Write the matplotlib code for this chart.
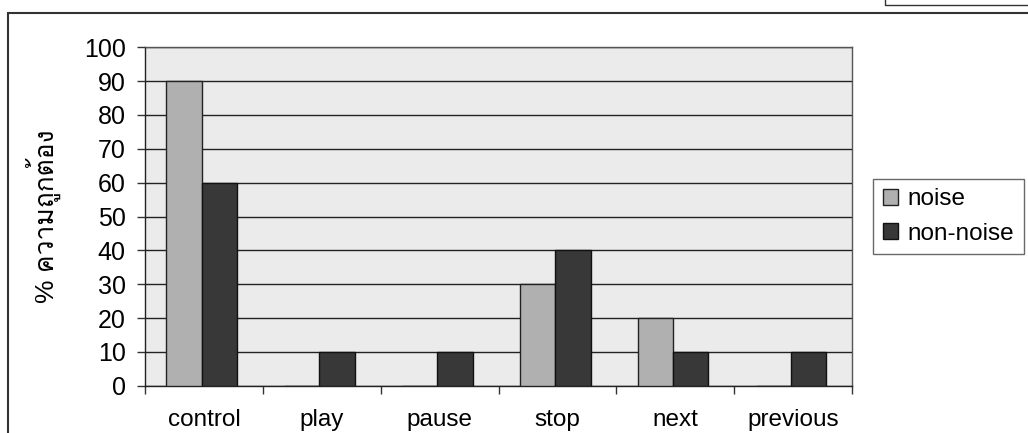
import matplotlib
matplotlib.use("Agg")
import matplotlib.pyplot as plt
from matplotlib import font_manager
from matplotlib.ft2font import FT2Font
from matplotlib.patches import Rectangle
import numpy as np

categories = ["control", "play", "pause", "stop", "next", "previous"]
noise = [90, 0, 0, 30, 20, 0]
non_noise = [60, 10, 10, 40, 10, 10]
yticks = [0, 10, 20, 30, 40, 50, 60, 70, 80, 90, 100]
ylabel = "% ความถูกต้อง"


def find_thai_font():
    for f in font_manager.fontManager.ttflist:
        try:
            cmap = FT2Font(f.fname).get_charmap()
        except Exception:
            continue
        if 0x0E04 in cmap and 0x0E39 in cmap:
            return f.name
    return None


thai = find_thai_font()
fams = ["Liberation Sans"] + ([thai] if thai else []) + ["DejaVu Sans"]
plt.rcParams["font.family"] = fams

fig = plt.figure(figsize=(10.28, 4.33), dpi=100)
ax = fig.add_axes([0.141, 0.109, 0.688, 0.782])

x = np.arange(len(categories))
w = 0.3
ax.bar(x - w / 2 - 0.02, noise, w, color="#b0b0b0", edgecolor="#222222", linewidth=1, label="noise", zorder=3)
ax.bar(x + w / 2 - 0.02, non_noise, w, color="#383838", edgecolor="#111111", linewidth=1, label="non-noise", zorder=3)

ax.set_facecolor("#ebebeb")
ax.set_xlim(-0.5, len(categories) - 0.5)
ax.set_ylim(0, 100)
ax.set_yticks(yticks)
ax.yaxis.grid(True, color="#222222", linewidth=1, zorder=0)
ax.set_axisbelow(True)
ax.set_xticks(x)
ax.set_xticklabels(categories, fontsize=17.5)
ax.tick_params(axis="x", length=0, pad=17)
ax.set_xticks(np.arange(len(categories) + 1) - 0.5, minor=True)
ax.tick_params(axis="x", which="minor", length=6, width=1, color="#333333")
ax.tick_params(axis="y", labelsize=18, length=6, width=1, color="#333333", pad=8)
for s in ax.spines.values():
    s.set_color("#555555")
    s.set_linewidth(1)
ax.spines["bottom"].set_color("#222222")
ax.spines["left"].set_color("#222222")
ax.set_ylabel(ylabel, fontsize=19, labelpad=16)

ax.legend(loc="center left", bbox_to_anchor=(1.03, 0.5), fontsize=17.5, frameon=True,
          fancybox=False, edgecolor="#444444", handlelength=0.6, handleheight=0.6,
          handletextpad=0.4, borderpad=0.4, labelspacing=0.5, borderaxespad=0)

# outer chart border and box fragment at top right
fig.patches.append(Rectangle((8 / 1028, -0.1), 1.1, 1 - 13 / 433 + 0.1, transform=fig.transFigure,
                             fill=False, edgecolor="#333333", linewidth=1.5))
fig.patches.append(Rectangle((885 / 1028, 1 - 5 / 433), 0.2, 0.1, transform=fig.transFigure,
                             fill=False, edgecolor="#333333", linewidth=1))

fig.savefig("out.png", dpi=100, facecolor="white")
